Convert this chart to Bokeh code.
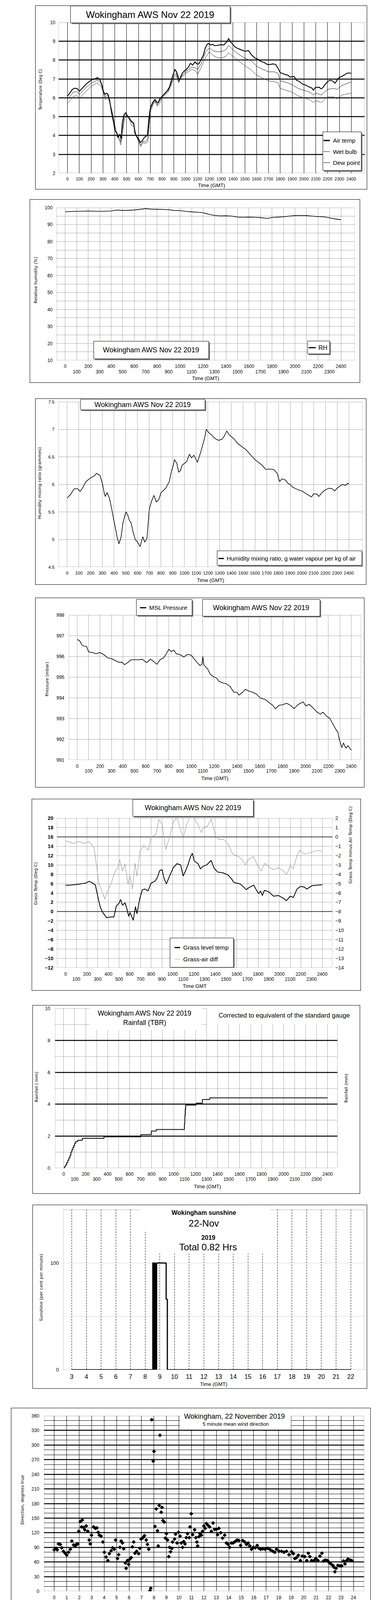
import numpy as np
from bokeh.plotting import figure
from bokeh.models import (Range1d, FixedTicker, LinearAxis, Label, Grid, CustomJSTickFormatter,
                          BoxAnnotation, Spacer)
from bokeh.layouts import column, row
from bokeh.embed import file_html
from bokeh.resources import INLINE

FONT = "Liberation Sans, Arimo, Arial, sans-serif"
YFONT = "DejaVu Sans"

# ======================= DATA =======================
hhmm_ticks = list(range(0, 2401, 100))
hhmm_even = list(range(0, 2401, 200))
hhmm_odd = list(range(100, 2400, 200))

# Panel 1 : temperatures (Deg C) vs time (hhmm)
air_temp = [(0,6.09),(19,6.25),(40,6.44),(61,6.51),(83,6.49),(100,6.34),(114,6.44),(136,6.58),(157,6.73),
 (178,6.83),(199,6.93),(220,6.99),(242,7.03),(252,7.08),(273,6.99),(290,6.69),(305,6.33),(320,6.18),(333,6.25),
 (343,6.18),(358,5.81),(375,5.14),(390,4.70),(401,4.25),(418,4.14),(428,3.89),(443,4.07),(454,3.81),(464,4.70),
 (479,5.11),(492,5.22),(507,4.99),(524,4.92),(538,4.77),(560,4.66),(570,4.14),(585,3.96),(602,3.81),(617,3.63),
 (634,3.74),(649,3.89),(664,3.96),(676,4.03),(689,4.92),(702,5.51),(719,5.73),(740,5.92),(755,5.77),(767,5.73),
 (782,5.96),(803,6.10),(825,6.25),(846,6.40),(863,6.58),(878,6.92),(892,7.21),(909,7.51),(924,7.36),(935,7.14),
 (945,6.92),(956,7.10),(973,7.33),(990,7.43),(1005,7.51),(1026,7.66),(1041,7.84),(1058,7.73),(1079,7.91),
 (1094,7.80),(1111,7.80),(1132,8.06),(1149,8.25),(1164,8.62),(1181,8.84),(1196,8.88),(1211,8.80),(1228,8.84),
 (1244,8.77),(1263,8.78),(1280,8.80),(1302,8.82),(1323,8.80),(1338,8.91),(1350,8.99),(1363,9.15),(1376,8.99),
 (1397,8.84),(1418,8.69),(1440,8.62),(1471,8.54),(1503,8.47),(1531,8.51),(1556,8.28),(1588,8.10),(1609,8.06),
 (1630,7.95),(1662,7.88),(1690,7.77),(1715,7.77),(1736,7.80),(1761,7.77),(1779,7.58),(1800,7.33),(1821,7.29),
 (1842,7.23),(1863,7.21),(1884,7.10),(1916,7.14),(1938,6.92),(1959,6.88),(1987,6.73),(2012,6.68),(2044,6.58),
 (2069,6.51),(2080,6.40),(2097,6.55),(2129,6.56),(2146,6.47),(2161,6.55),(2182,6.73),(2203,6.88),(2224,6.93),
 (2246,6.88),(2263,6.77),(2278,6.92),(2299,7.08),(2320,7.14),(2341,7.21),(2362,7.30),(2384,7.32),(2400,7.30)]
wet_bulb = [(0,5.92),(50,6.30),(80,6.33),(100,6.18),(150,6.50),(200,6.78),(250,6.93),(280,6.85),(300,6.40),
 (320,6.05),(340,6.15),(360,5.75),(380,5.15),(400,4.45),(420,4.05),(440,3.85),(450,3.65),(465,4.35),(480,5.00),
 (500,5.15),(520,4.95),(540,4.70),(560,4.60),(580,4.00),(600,3.75),(620,3.50),(640,3.70),(660,3.65),(680,3.85),
 (700,5.35),(720,5.65),(740,5.88),(760,5.62),(780,5.85),(800,6.05),(850,6.35),(880,6.80),(900,7.20),(920,7.30),
 (940,6.85),(960,7.10),(1000,7.40),(1050,7.62),(1080,7.60),(1100,7.50),(1130,7.80),(1170,8.45),(1200,8.65),
 (1230,8.50),(1260,8.45),(1300,8.45),(1340,8.55),(1363,8.78),(1400,8.55),(1450,8.30),(1500,8.10),(1550,7.98),
 (1600,7.68),(1650,7.52),(1700,7.38),(1750,7.38),(1780,7.30),(1800,6.90),(1850,6.82),(1900,6.70),(1950,6.50),
 (2000,6.40),(2050,6.30),(2080,6.15),(2100,6.25),(2150,6.15),(2180,6.35),(2200,6.45),(2250,6.50),(2280,6.45),
 (2320,6.65),(2360,6.75),(2400,6.84)]
dew_point = [(0,5.70),(20,5.85),(50,6.08),(80,6.12),(100,5.98),(120,6.10),(150,6.30),(200,6.60),(250,6.80),
 (280,6.65),(300,6.35),(320,5.90),(340,6.05),(360,5.70),(380,5.20),(400,4.60),(420,3.95),(440,3.75),(450,3.50),
 (465,4.00),(480,4.85),(500,5.05),(520,4.90),(540,4.55),(560,4.50),(580,4.00),(600,3.70),(620,3.40),(640,3.65),
 (660,3.55),(680,3.70),(700,5.20),(720,5.60),(740,5.80),(760,5.55),(780,5.70),(800,6.00),(850,6.30),(880,6.70),
 (900,7.10),(920,7.20),(940,6.80),(960,7.05),(1000,7.30),(1050,7.50),(1080,7.45),(1100,7.25),(1130,7.60),
 (1170,8.15),(1200,8.45),(1230,8.25),(1260,8.15),(1300,8.10),(1340,8.20),(1363,8.40),(1400,8.20),(1450,7.95),
 (1500,7.70),(1550,7.50),(1600,7.20),(1650,7.05),(1700,6.90),(1750,6.85),(1780,6.80),(1800,6.50),(1850,6.40),
 (1900,6.30),(1950,6.10),(2000,6.00),(2050,5.90),(2080,5.75),(2100,5.85),(2150,5.75),(2180,5.95),(2200,6.05),
 (2250,6.05),(2280,5.95),(2320,6.15),(2360,6.20),(2400,6.25)]

# Panel 2 : relative humidity (%)
rel_hum = [(0,97.6),(100,97.8),(200,98.0),(300,97.8),(400,98.0),(450,98.6),(500,98.3),(600,98.6),(700,99.4),
 (750,99.1),(800,99.0),(850,98.9),(900,98.8),(950,98.3),(1000,98.2),(1050,97.8),(1100,97.5),(1150,97.3),
 (1200,97.0),(1230,96.4),(1260,95.9),(1300,95.4),(1350,95.1),(1400,95.2),(1450,95.0),(1500,94.4),(1550,94.3),
 (1600,94.4),(1650,94.3),(1700,94.1),(1760,93.6),(1800,94.2),(1850,94.4),(1900,94.6),(1950,95.0),(2000,95.3),
 (2050,95.4),(2100,95.3),(2150,95.0),(2200,94.7),(2250,94.6),(2300,94.0),(2350,93.3),(2400,92.9)]

# Panel 3 : humidity mixing ratio (g/kg)
mix_ratio = [(0,5.75),(30,5.82),(60,5.92),(90,5.92),(110,5.87),(130,5.93),(160,6.05),(200,6.12),(230,6.15),
 (250,6.20),(280,6.16),(300,6.02),(315,5.85),(325,5.78),(340,5.85),(360,5.75),(380,5.55),(395,5.38),(410,5.22),
 (425,5.05),(441,4.92),(460,5.05),(475,5.30),(490,5.42),(501,5.50),(515,5.45),(530,5.35),(545,5.30),(560,5.15),
 (580,5.00),(600,4.95),(622,4.87),(635,4.98),(645,5.05),(660,4.95),(680,5.02),(700,5.55),(720,5.70),(740,5.80),
 (760,5.68),(780,5.72),(800,5.85),(840,5.93),(870,6.05),(890,6.25),(905,6.35),(914,6.45),(935,6.38),(950,6.22),
 (965,6.25),(980,6.35),(1000,6.38),(1020,6.42),(1042,6.55),(1060,6.48),(1080,6.53),(1110,6.40),(1125,6.50),
 (1140,6.60),(1160,6.75),(1175,6.88),(1185,7.00),(1210,6.93),(1230,6.90),(1250,6.85),(1270,6.82),(1290,6.80),
 (1320,6.82),(1340,6.88),(1360,6.97),(1380,6.90),(1420,6.83),(1450,6.75),(1480,6.70),(1523,6.63),(1545,6.58),
 (1570,6.52),(1600,6.45),(1630,6.40),(1660,6.35),(1693,6.27),(1720,6.28),(1760,6.27),(1790,6.20),(1810,6.05),
 (1830,6.10),(1860,6.08),(1880,6.02),(1900,6.00),(1920,5.95),(1940,5.93),(1970,5.90),(2000,5.88),(2030,5.84),
 (2060,5.80),(2082,5.77),(2100,5.83),(2130,5.82),(2145,5.78),(2170,5.85),(2200,5.90),(2230,5.93),(2260,5.92),
 (2280,5.88),(2300,5.93),(2330,5.98),(2350,6.00),(2370,5.98),(2393,6.02),(2400,6.01)]

# Panel 4 : MSL pressure (mbar)
pressure = [(0,996.82),(22,996.75),(40,996.57),(55,996.50),(81,996.49),(99,996.22),(132,996.19),(165,996.13),
 (198,996.19),(230,996.10),(264,995.94),(296,995.90),(329,995.81),(362,995.72),(395,995.72),(413,995.60),
 (439,995.69),(472,995.84),(505,995.84),(538,995.84),(571,995.86),(608,995.70),(641,995.87),(670,995.75),
 (698,995.62),(725,995.84),(758,995.94),(780,996.13),(802,996.35),(824,996.23),(845,996.31),(867,996.13),
 (900,996.09),(933,995.97),(966,996.10),(999,996.06),(1021,995.90),(1054,995.68),(1076,995.56),(1092,995.62),
 (1100,996.00),(1109,995.59),(1142,995.40),(1164,995.15),(1190,995.03),(1219,994.96),(1241,994.80),
 (1274,994.72),(1306,994.68),(1339,994.55),(1372,994.27),(1401,994.27),(1416,994.13),(1449,994.27),
 (1471,994.41),(1504,994.33),(1537,994.27),(1570,994.18),(1603,993.99),(1647,993.92),(1680,993.77),
 (1713,993.64),(1735,993.47),(1768,993.64),(1801,993.67),(1834,993.74),(1867,993.64),(1900,993.48),
 (1933,993.67),(1977,993.81),(2003,993.61),(2032,993.69),(2064,993.52),(2097,993.33),(2130,993.21),
 (2152,993.31),(2185,993.11),(2212,993.01),(2240,992.73),(2262,992.51),(2284,992.32),(2295,992.00),
 (2317,991.60),(2332,991.82),(2354,991.57),(2372,991.69),(2400,991.47)]

# Panel 5 : grass temperature (left axis) and grass-air difference (right axis)
grass_temp = [(0,5.68),(35,5.68),(93,5.80),(139,5.95),(185,6.10),(220,6.50),(255,6.10),(278,5.68),(301,3.20),
 (324,0.95),(347,-0.17),(382,-1.28),(417,-1.14),(451,-1.14),(474,1.22),(498,1.78),(514,2.60),(532,1.36),
 (555,1.92),(572,0.67),(590,-1.00),(602,-0.17),(632,-1.84),(653,1.08),(667,-0.45),(694,2.89),(717,4.70),
 (741,4.84),(771,4.42),(798,6.09),(833,6.50),(856,7.20),(879,8.74),(902,9.00),(921,7.06),(942,5.95),(972,7.62),
 (1007,9.43),(1041,10.27),(1076,9.99),(1099,7.62),(1122,8.74),(1145,10.13),(1169,11.80),(1185,12.50),
 (1203,10.83),(1238,10.27),(1261,9.15),(1284,9.71),(1319,9.99),(1361,10.96),(1388,9.29),(1423,8.46),
 (1469,8.32),(1516,7.90),(1550,7.06),(1574,6.23),(1631,5.95),(1666,5.26),(1689,4.70),(1712,5.12),(1759,5.68),
 (1782,4.70),(1805,3.87),(1823,4.42),(1840,3.45),(1858,4.56),(1898,4.28),(1944,3.31),(1990,3.45),(2036,2.89),
 (2064,2.34),(2101,3.31),(2129,3.03),(2164,4.84),(2198,5.40),(2233,5.26),(2256,4.84),(2302,5.54),(2349,5.68),
 (2400,5.76)]
grass_air_diff = [(0,-0.42),(69,-0.70),(127,-0.49),(174,-0.70),(220,-0.49),(266,-1.14),(289,-3.09),(312,-5.04),
 (347,-6.01),(366,-6.64),(394,-5.73),(428,-4.90),(463,-3.65),(486,-3.37),(505,-2.46),(532,-3.65),(555,-2.88),
 (583,-5.04),(602,-4.20),(625,-5.59),(648,-2.81),(667,-4.20),(694,-1.56),(729,-0.93),(775,-1.42),(798,-0.03),
 (845,0.25),(872,1.86),(902,1.36),(921,-0.17),(937,-1.35),(972,-0.03),(1007,1.57),(1041,2.10),(1099,-0.17),
 (1122,0.95),(1157,2.10),(1203,2.05),(1238,1.29),(1268,0.46),(1296,1.09),(1324,1.09),(1361,1.92),(1400,0.11),
 (1435,-0.31),(1476,-0.24),(1516,-0.72),(1562,-1.84),(1608,-2.05),(1654,-2.46),(1678,-3.02),(1712,-2.39),
 (1759,-2.11),(1793,-3.02),(1828,-3.65),(1863,-2.81),(1898,-3.23),(1944,-3.51),(1990,-3.30),(2036,-3.65),
 (2066,-4.06),(2101,-3.09),(2129,-3.44),(2164,-1.98),(2191,-1.42),(2233,-1.84),(2268,-1.77),(2314,-1.56),
 (2360,-1.45),(2400,-1.56)]

# Panel 6 : cumulative rainfall (mm), step series
rainfall = [(0,0.0),(8,0.1),(18,0.2),(28,0.35),(38,0.5),(48,0.65),(58,0.8),(66,1.0),(75,1.15),(84,1.3),
 (92,1.42),(100,1.55),(110,1.67),(129,1.75),(170,1.87),(367,1.96),(702,2.1),(797,2.32),(842,2.42),(1098,2.8),
 (1102,3.3),(1106,3.7),(1110,3.95),(1205,4.07),(1261,4.3),(1329,4.4),(2400,4.4)]

# Panel 7 : sunshine (% per minute) vs hour
sunshine = [(3.0,0),(8.52,100),(8.60,0),(8.65,100),(8.70,0),(8.78,100),(9.43,66),(9.51,0),(22.0,0)]
sun_hours = list(range(3, 23))

# Panel 8 : 5-minute mean wind direction (degrees) vs hour
wind_dir = [(0.0,85),(0.14,88),(0.24,85),(0.34,97),(0.48,96),(0.6,89),(0.74,82),(0.88,78),(1.0,74),(1.15,80),
 (1.29,86),(1.41,103),(1.55,95),(1.69,93),(1.81,97),(1.89,97),(1.97,123),(2.09,143),(2.19,132),(2.25,146),
 (2.35,131),(2.45,126),(2.57,134),(2.69,123),(2.81,105),(2.89,97),(2.99,115),(3.16,132),(3.3,129),(3.42,130),
 (3.52,121),(3.62,115),(3.76,113),(3.9,101),(4.02,80),(4.16,70),(4.3,63),(4.42,77),(4.56,83),(4.68,89),
 (4.82,86),(4.92,105),(5.07,67),(5.17,75),(5.27,90),(5.37,103),(5.47,99),(5.57,87),(5.71,58),(5.77,47),
 (5.87,63),(5.97,55),(6.07,66),(6.17,69),(6.27,91),(6.37,101),(6.47,78),(6.61,82),(6.77,77),(6.87,88),
 (6.97,107),(7.12,110),(7.24,114),(7.38,105),(7.48,96),(7.58,86),(7.68,1),(7.74,6),(7.82,352),(7.94,267),
 (8.0,287),(8.08,133),(8.18,169),(8.28,124),(8.34,93),(8.42,176),(8.48,320),(8.58,162),(8.64,172),(8.72,145),
 (8.82,142),(8.92,109),(9.0,118),(9.09,105),(9.19,71),(9.25,90),(9.33,81),(9.43,88),(9.49,101),(9.65,107),
 (9.73,117),(9.85,99),(9.97,121),(10.09,113),(10.19,99),(10.29,90),(10.39,102),(10.49,97),(10.59,110),
 (10.69,118),(10.83,110),(10.89,132),(10.99,159),(11.1,116),(11.26,126),(11.36,110),(11.44,101),(11.5,93),
 (11.6,112),(11.7,118),(11.8,115),(11.9,123),(12.0,134),(12.1,129),(12.2,139),(12.34,135),(12.46,132),
 (12.6,123),(12.74,140),(12.86,127),(13.0,127),(13.1,116),(13.2,129),(13.35,120),(13.5,109),(13.67,115),
 (13.81,99),(13.95,96),(14.07,90),(14.21,99),(14.35,99),(14.51,102),(14.67,105),(14.81,104),(14.95,94),
 (15.12,104),(15.28,101),(15.42,96),(15.56,99),(15.68,93),(15.82,86),(15.96,90),(16.12,89),(16.28,94),
 (16.42,88),(16.56,86),(16.72,87),(16.92,86),(17.13,88),(17.33,85),(17.53,82),(17.69,80),(17.83,86),
 (18.03,82),(18.23,82),(18.43,80),(18.63,82),(18.83,75),(19.04,81),(19.18,77),(19.3,67),(19.44,69),(19.58,74),
 (19.74,63),(19.9,72),(20.1,71),(20.26,63),(20.38,78),(20.5,71),(20.64,63),(20.84,63),(20.98,67),(21.15,63),
 (21.31,72),(21.47,78),(21.59,62),(21.75,64),(21.91,63),(22.05,59),(22.19,56),(22.35,53),(22.45,49),
 (22.51,40),(22.61,47),(22.75,53),(22.91,52),(23.06,52),(23.2,62),(23.32,56),(23.46,63),(23.56,66),
 (23.72,64),(23.86,63)]

# Panel 9 : wind speed (knots) vs hour
speed_mean = [(0,3.9),(0.35,3.9),(0.74,3.2),(1.13,3.0),(1.43,2.75),(1.82,3.7),(2.11,2.75),(2.5,3.7),(2.99,3.45),
 (3.29,2.75),(3.68,3.0),(3.97,2.75),(4.36,3.2),(4.76,4.4),(5.05,3.0),(5.44,2.5),(5.77,1.56),(6.03,2.5),
 (6.32,1.33),(6.61,3.0),(7.0,5.1),(7.3,3.9),(7.55,3.0),(7.79,1.33),(8.08,1.1),(8.28,1.56),(8.47,0.6),
 (8.67,0.6),(8.77,4.4),(9.06,3.9),(9.35,4.4),(9.75,4.2),(10.14,3.9),(10.63,4.4),(11.12,5.35),(11.51,4.4),
 (11.9,4.65),(12.39,7.5),(12.68,4.4),(13.07,6.3),(13.46,4.65),(13.86,3.45),(14.25,5.1),(14.64,5.6),
 (15.13,6.5),(15.62,5.8),(16.01,7.0),(16.4,6.5),(16.79,5.8),(17.28,8.0),(17.67,8.2),(18.06,7.7),(18.45,6.1),
 (18.75,7.7),(19.14,7.0),(19.53,5.1),(19.92,4.0),(20.31,4.65),(20.7,4.2),(21.1,4.65),(21.49,3.9),(21.88,4.9),
 (22.27,3.7),(22.66,4.4),(23.06,6.1),(23.45,7.7),(23.64,5.8),(23.99,7.7)]
speed_gust = [(0.0,6.5),(0.12,4.8),(0.25,8.3),(0.37,4.5),(0.5,7.0),(0.62,4.2),(0.75,5.5),(0.87,3.8),(1.0,4.0),
 (1.12,7.5),(1.25,4.0),(1.37,6.2),(1.5,4.5),(1.62,7.8),(1.75,3.9),(1.87,6.8),(2.0,3.5),(2.12,6.5),(2.25,4.2),
 (2.37,6.0),(2.5,5.0),(2.62,6.8),(2.75,3.8),(2.87,5.8),(3.0,4.0),(3.12,5.5),(3.25,3.2),(3.37,5.0),(3.5,3.5),
 (3.62,4.8),(3.75,3.0),(3.87,4.5),(4.0,3.0),(4.12,5.5),(4.25,4.0),(4.37,6.5),(4.5,5.0),(4.62,6.2),(4.75,4.2),
 (4.87,5.0),(5.0,3.2),(5.12,4.5),(5.25,3.0),(5.37,4.0),(5.5,2.8),(5.62,3.8),(5.75,2.2),(5.87,4.5),(6.0,3.0),
 (6.12,5.0),(6.25,2.2),(6.37,4.5),(6.5,3.5),(6.62,5.5),(6.75,4.5),(6.87,7.5),(7.0,5.5),(7.12,6.5),(7.25,4.0),
 (7.37,5.0),(7.5,3.0),(7.62,3.8),(7.75,1.5),(7.87,3.5),(8.0,1.2),(8.12,3.0),(8.25,1.0),(8.37,4.5),(8.5,2.0),
 (8.62,6.5),(8.75,9.5),(8.87,4.5),(9.0,5.5),(9.12,4.0),(9.25,6.0),(9.37,4.2),(9.5,6.5),(9.62,4.5),(9.75,7.0),
 (9.87,5.0),(10.0,5.5),(10.12,8.5),(10.25,5.0),(10.37,7.8),(10.5,6.0),(10.62,9.5),(10.75,5.5),(10.87,8.5),
 (11.0,6.5),(11.1,17.0),(11.2,6.5),(11.37,12.5),(11.5,7.5),(11.62,11.0),(11.75,7.0),(11.87,12.0),(12.0,8.0),
 (12.12,11.5),(12.25,7.5),(12.37,12.5),(12.5,8.0),(12.62,11.5),(12.75,7.0),(12.87,10.5),(13.0,6.5),
 (13.12,11.0),(13.25,6.0),(13.37,10.0),(13.5,5.5),(13.62,9.5),(13.75,5.0),(13.87,9.0),(14.0,6.5),(14.12,10.5),
 (14.25,8.0),(14.37,13.5),(14.5,8.5),(14.62,13.0),(14.75,8.5),(14.89,16.6),(15.0,9.0),(15.12,14.0),(15.25,8.5),
 (15.37,15.0),(15.5,9.5),(15.62,13.5),(15.75,9.0),(15.87,15.0),(16.0,16.6),(16.12,10.0),(16.25,14.0),
 (16.37,9.0),(16.5,13.0),(16.62,8.5),(16.75,12.5),(16.87,9.5),(17.0,13.0),(17.12,10.0),(17.3,17.7),(17.4,10.5),
 (17.5,15.5),(17.62,10.0),(17.75,14.5),(17.87,9.5),(18.0,15.0),(18.12,9.5),(18.25,14.0),(18.37,10.0),
 (18.5,13.5),(18.62,10.0),(18.86,16.6),(19.0,9.0),(19.12,12.5),(19.25,7.5),(19.37,9.5),(19.5,6.0),(19.62,9.0),
 (19.75,5.0),(19.87,8.5),(20.0,5.5),(20.12,9.0),(20.25,5.0),(20.37,8.5),(20.5,5.0),(20.62,9.0),(20.75,5.0),
 (20.87,8.5),(21.0,5.0),(21.12,9.0),(21.25,4.5),(21.37,8.5),(21.5,5.0),(21.62,9.0),(21.75,4.0),(21.87,7.5),
 (22.0,3.5),(22.12,6.5),(22.25,4.0),(22.37,8.5),(22.5,5.5),(22.62,9.5),(22.75,6.5),(22.87,11.0),(23.0,8.0),
 (23.14,16.9),(23.25,9.0),(23.36,16.2),(23.5,10.0),(23.62,14.5),(23.75,9.5),(23.87,15.4),(23.95,8.0),
 (24.0,13.0)]
speed_x10 = [(0.0,40.0),(0.08,38.7),(0.16,39.6),(0.24,39.2),(0.31,36.8),(0.37,38.7),(0.44,38.3),(0.52,39.4),
 (0.58,37.4),(0.65,37.9),(0.71,36.8),(0.68,35.1),(0.74,35.7),(0.78,33.8),(0.83,32.5),(0.88,31.2),(0.93,30.1),
 (0.95,29.0),(1.01,28.4),(1.06,27.9),(1.11,31.2),(1.13,35.5),(1.2,36.0),(1.26,33.1),(1.28,31.6),(1.33,29.0),
 (1.4,27.7),(1.46,26.6),(1.52,28.2),(1.54,31.6),(1.59,34.0),(1.64,35.7),(1.66,38.1),(1.74,39.0),(1.8,39.8),
 (1.87,39.6),(1.95,38.1),(2.0,36.3),(2.05,33.3),(2.07,31.3),(2.1,28.6),(2.16,26.9),(2.19,25.3),(2.26,26.9),
 (2.29,29.2),(2.33,30.5),(2.36,32.7),(2.41,34.9),(2.46,33.8),(2.52,36.8),(2.57,39.6),(2.62,38.7),(2.72,37.7),
 (2.77,39.8),(2.87,39.8),(2.92,38.1),(2.95,36.6),(2.97,35.7),(2.99,33.8),(3.02,32.5),(3.07,31.4),(3.12,30.5),
 (3.15,29.0),(3.2,27.0),(3.22,26.0),(3.25,24.3),(3.27,23.4),(3.32,28.2),(3.37,29.0),(3.43,30.3),(3.48,31.4),
 (3.53,32.5),(3.58,33.3),(3.63,32.0),(3.68,30.3),(3.72,27.7),(3.76,25.6),(3.81,24.1),(3.86,23.0),(3.89,22.3),
 (3.94,26.4),(3.99,27.7),(4.04,28.2),(4.1,28.8),(4.2,27.7),(4.3,28.6),(4.35,29.6),(4.37,31.2),(4.4,32.5),
 (4.43,33.8),(4.46,35.1),(4.48,36.8),(4.51,38.3),(4.56,39.8),(4.8,39.6),(4.84,38.3),(4.87,36.6),(4.9,35.5),
 (4.92,34.2),(4.94,32.7),(4.97,31.2),(4.99,30.1),(5.02,29.0),(5.05,27.7),(5.11,26.9),(5.16,26.0),(5.2,25.1),
 (5.23,24.3),(5.25,22.3),(5.28,23.4),(5.33,24.9),(5.38,25.6),(5.43,24.7),(5.48,25.3),(5.53,26.2),(5.58,26.4),
 (5.63,22.3),(5.68,20.7),(5.71,19.0),(5.73,17.7),(5.76,16.4),(5.78,15.7),(5.81,18.0),(5.83,19.8),(5.86,21.3),
 (5.88,23.0),(5.91,24.9),(5.93,26.4),(5.98,27.7),(6.05,28.2),(6.11,27.0),(6.15,26.2),(6.21,24.5),(6.23,22.5),
 (6.28,20.5),(6.31,18.6),(6.33,16.8),(6.37,15.5),(6.39,14.0),(6.37,13.3),(6.44,17.5),(6.47,20.1),(6.51,23.6),
 (6.54,25.1),(6.59,26.9),(6.64,27.9),(6.69,28.8),(6.72,29.6),(6.74,30.9),(6.76,32.0),(6.79,33.3),(6.81,34.2),
 (6.84,35.5),(6.84,37.0),(6.87,38.9),(7.25,39.4),(7.35,38.1),(7.38,37.0),(7.4,36.2),(7.45,33.3),(7.48,32.5),
 (7.5,31.6),(7.52,30.7),(7.55,29.2),(7.57,26.6),(7.6,24.9),(7.6,22.5),(7.62,21.0),(7.63,18.8),(7.65,16.8),
 (7.68,15.7),(7.68,12.9),(7.71,11.8),(7.73,10.5),(7.73,9.2),(7.76,13.5),(7.79,14.6),(7.83,16.8),(7.86,18.5),
 (7.91,19.0),(7.96,19.2),(8.01,16.4),(8.04,32.0),(8.06,30.3),(8.06,26.6),(8.08,27.5),(8.06,22.8),(8.09,22.3),
 (8.11,16.0),(8.14,14.9),(8.16,13.8),(8.18,12.9),(8.18,9.4),(8.21,8.6),(8.26,10.3),(8.31,9.4),(8.36,8.6),
 (8.42,9.4),(8.47,12.5),(8.52,11.2),(8.57,12.0),(8.62,11.2),(8.1,7.5),(8.2,6.0),(8.25,4.2),(8.3,2.5),(8.38,0.6),
 (8.42,3.5),(8.48,5.5),(8.55,7.2),(8.6,6.0),(8.65,3.8),(8.7,6.5),(8.65,16.6),(8.65,21.2),(8.67,26.6),(8.72,32.1),
 (8.72,37.9),(8.88,39.6),(8.93,38.9),(8.98,38.3),(9.03,37.6),(9.08,37.0),(9.11,36.2),(9.15,34.0),(9.18,33.3),
 (9.23,32.5),(9.26,31.4),(9.31,32.2),(9.35,36.2),(9.38,37.0),(9.43,35.3),(9.45,34.0),(9.48,32.5),(9.5,31.0),
 (9.53,29.9),(9.48,28.8),(9.45,28.4),(9.58,31.4),(9.58,36.0),(9.63,37.0),(9.66,38.1),(9.7,39.6),(9.78,39.8),
 (9.88,39.6),(9.98,39.2),(10.03,39.6),(10.08,38.1),(10.13,38.7),(10.71,39.8),(10.87,38.1),(11.42,39.8),
 (11.58,38.3),(11.63,38.7),(11.73,39.6),(11.73,37.9),(13.77,39.3),(13.75,37.3),(13.93,37.5),(13.83,36.4),
 (13.91,35.5),(13.83,34.2),(19.77,39.0),(19.79,39.9),(20.5,39.8),(21.16,39.9),(21.47,39.9),(21.4,37.5),
 (21.44,36.4),(22.03,37.4),(22.08,35.1),(22.13,35.9),(22.13,36.6),(22.18,38.9),(22.18,37.6),(22.23,36.8),
 (22.33,38.5),(22.35,36.8),(22.36,36.0),(22.38,37.9),(22.41,39.7)]

def cols(pairs):
    return [a for a, b in pairs], [b for a, b in pairs]

# ======================= HELPERS =======================
class Geo:
    """Panel geometry in reference pixels: outer box, true plot rectangle, x anchors, y range.
    The Bokeh frame is extended up to the outer box top (and optionally to its right edge)."""
    def __init__(self, box, plot, xanch, yr, ext_right=False):
        self.box = tuple(int(round(v)) for v in box)
        self.plot = tuple(int(round(v)) for v in plot)
        (p0, v0), (p1, v1) = xanch
        self.p0, self.v0, self.s = p0, v0, (v1 - v0) / (p1 - p0)
        self.yr = yr
        self.ext_right = ext_right
        self.frame = (self.plot[0], self.box[1], self.box[2] if ext_right else self.plot[2], self.plot[3])

    def dx(self, px):
        return self.v0 + (px - self.p0) * self.s

    def dy(self, py):
        _, t, _, b = self.plot
        ys, ye = self.yr
        return ys + (b - py) * (ye - ys) / (b - t)

def make_fig(g):
    x0, y0, x1, y1 = g.box
    fx0, fy0, fx1, fy1 = g.frame
    p = figure(width=x1 - x0, height=y1 - y0,
               x_range=Range1d(g.dx(fx0), g.dx(fx1)), y_range=Range1d(g.dy(fy1), g.dy(fy0)),
               min_border_left=fx0 - x0, min_border_right=x1 - fx1,
               min_border_top=fy0 - y0, min_border_bottom=y1 - fy1,
               output_backend="svg", toolbar_location=None, tools="")
    p.styles = {"outline": "1px solid black"}
    p.outline_line_color = None
    p.background_fill_color = "white"
    p.border_fill_color = "white"
    p.xgrid.grid_line_color = None
    p.ygrid.grid_line_color = None
    return p

def sty(ax, size, standoff, bold=False):
    ax.axis_line_color = None
    ax.major_tick_line_color = None
    ax.minor_tick_line_color = None
    ax.major_tick_out = 0
    ax.major_tick_in = 0
    ax.minor_tick_out = 0
    ax.minor_tick_in = 0
    ax.major_label_text_font = FONT
    ax.major_label_text_font_size = f"{size}px"
    ax.major_label_text_font_style = "bold" if bold else "normal"
    ax.major_label_text_color = "black"
    ax.major_label_standoff = standoff

def axis_title(ax, text, size, standoff, font=FONT, bounds=None):
    ax.axis_label = text
    ax.axis_label_text_font = font
    ax.axis_label_text_font_size = f"{size}px"
    ax.axis_label_text_font_style = "normal"
    ax.axis_label_text_color = "black"
    ax.axis_label_standoff = standoff
    if bounds is not None:
        ax.bounds = bounds

def xtitle(p, g, ax, text, standoff, size=13):
    axis_title(ax, text, size, standoff, bounds=(g.dx(g.plot[0]), g.dx(g.plot[2])))

def ytitle(p, g, text, standoff, size=11):
    axis_title(p.left[0], text, size, standoff, font=YFONT, bounds=tuple(g.yr))

def two_row(p, even, odd, size, s1, s2, formatter=None):
    ax1 = p.below[0]
    ax1.ticker = FixedTicker(ticks=even)
    ax2 = LinearAxis(ticker=FixedTicker(ticks=odd))
    p.add_layout(ax2, "below")
    sty(ax1, size, s1)
    sty(ax2, size, s2)
    if formatter is not None:
        ax1.formatter = formatter
        ax2.formatter = CustomJSTickFormatter(code=formatter.code)
    return ax2

def grid(grd, ticks, color="black", width=1, dash="solid", alpha=1.0):
    grd.ticker = FixedTicker(ticks=ticks)
    grd.grid_line_color = color
    grd.grid_line_width = width
    grd.grid_line_dash = dash
    grd.grid_line_alpha = alpha

def extra_grid(p, dim, ticks, color="black", width=1, dash="solid", alpha=1.0):
    p.add_layout(Grid(dimension=dim, ticker=FixedTicker(ticks=ticks), grid_line_color=color,
                      grid_line_width=width, grid_line_dash=dash, grid_line_alpha=alpha))

def plot_frame(p, g):
    """White-out the extended frame outside the true plot area, then draw the plot border."""
    l, t, r, b = g.plot
    p.add_layout(BoxAnnotation(bottom=g.dy(t), fill_color="white", fill_alpha=1.0, line_color=None))
    if g.ext_right:
        p.add_layout(BoxAnnotation(left=g.dx(r), fill_color="white", fill_alpha=1.0, line_color=None))
        right = g.dx(r + 0.5)
    else:
        right = g.dx(r - 0.5)
    p.add_layout(BoxAnnotation(left=g.dx(l + 0.5), right=right, bottom=g.dy(b - 0.5), top=g.dy(t + 0.5),
                               fill_alpha=0.0, line_color="black", line_width=1))

def txt(p, g, px, py, text, size, font=FONT, bold=False, angle=0.0, color="black", align="center"):
    p.add_layout(Label(x=g.dx(px), y=g.dy(py), text=text, text_font=font,
                       text_font_size=f"{size}px", text_font_style="bold" if bold else "normal",
                       text_align=align, text_baseline="middle", angle=angle, text_color=color))

def rect(p, g, x0, x1, yc, half_h, fill, border=False, x_off=0, y_off=0):
    """Annotation rectangle built from a blank label: horizontal half-size from x0..x1, vertical half_h px."""
    hw = int(round((x1 - x0) / 2))
    p.add_layout(Label(x=g.dx((x0 + x1) / 2), y=g.dy(yc), x_offset=x_off, y_offset=y_off, text=" ",
                       text_font_size="1px", text_align="center", text_baseline="middle",
                       background_fill_color=fill, border_line_color="black" if border else None,
                       border_line_width=1, padding=dict(left=hw, right=hw, top=half_h, bottom=half_h)))

def box(p, g, x0, y0, x1, y1, border=True, shadow=True, fill="white"):
    hh = int(round((y1 - y0) / 2))
    yc = (y0 + y1) / 2
    if shadow:
        rect(p, g, x0, x1, yc, hh, "#7a7a7a", x_off=3, y_off=-3)
    rect(p, g, x0, x1, yc, hh, fill, border=border)

def legend_entry(p, g, sx0, sx1, yc, thick, text, tx, size, color="black"):
    rect(p, g, sx0, sx1, yc, thick, color)
    txt(p, g, tx, yc, text, size, align="left")

TITLE = "Wokingham AWS Nov 22 2019"
dotted = "1 2"

# ======================= PANEL 1 : temperature =======================
g1 = Geo((99.4, 23.2, 945.5, 492.1), (157.1, 65.4, 940.4, 451.8), ((180.1, 0), (905.8, 2400)), (2, 10))
p1 = make_fig(g1)
p1.xaxis.ticker = FixedTicker(ticks=hhmm_ticks)
sty(p1.below[0], 11, 10)
p1.yaxis.ticker = FixedTicker(ticks=list(range(2, 11)))
sty(p1.left[0], 12, 8)
xtitle(p1, g1, p1.below[0], "Time (GMT)", 2)
ytitle(p1, g1, "Temperature (Deg C)", 16, size=10)
grid(p1.xgrid[0], hhmm_ticks, width=1)
grid(p1.ygrid[0], list(range(3, 10)), width=2.6)
t, v = cols(dew_point); p1.line(t, v, line_color="#333333", line_width=1)
t, v = cols(wet_bulb); p1.line(t, v, line_color="#111111", line_width=1)
t, v = cols(air_temp); p1.line(t, v, line_color="black", line_width=2.2)
plot_frame(p1, g1)
box(p1, g1, 187.8, 24.0, 596.2, 65.4)
txt(p1, g1, 392.0, 44.7, TITLE, 24)
box(p1, g1, 833.3, 346.4, 931.4, 444.6)
legend_entry(p1, g1, 835, 851, 367.9, 1, "Air temp", 859, 15.5)
legend_entry(p1, g1, 835, 851, 396.4, 0, "Wet bulb", 859, 15.5)
legend_entry(p1, g1, 835, 851, 425.0, 0, "Dew point", 859, 15.5)

# ======================= PANEL 2 : RH =======================
g2 = Geo((85.3, 518.6, 927.6, 986.6), (151.9, 538.6, 914.7, 929.7), ((174.4, 0), (879.5, 2400)), (10, 100))
p2 = make_fig(g2)
ax2b = two_row(p2, hhmm_even, hhmm_odd, 12, 10, 2)
p2.yaxis.ticker = FixedTicker(ticks=list(range(10, 101, 10)))
sty(p2.left[0], 12, 10)
xtitle(p2, g2, ax2b, "Time (GMT)", 2)
ytitle(p2, g2, "Relative humidity (%)", 13)
grid(p2.xgrid[0], hhmm_ticks, dash=dotted)
grid(p2.ygrid[0], list(range(15, 100, 5)), dash=dotted)
t, v = cols(rel_hum); p2.line(t, v, line_color="black", line_width=1.6)
plot_frame(p2, g2)
box(p2, g2, 246.8, 881.7, 541.7, 925.5)
txt(p2, g2, 394.3, 903.6, TITLE, 18)
box(p2, g2, 794.9, 880.7, 850.0, 913.4)
legend_entry(p2, g2, 797, 815, 897.5, 1, "RH", 821.8, 16)

# ======================= PANEL 3 : mixing ratio =======================
g3 = Geo((99.4, 1029.0, 944.2, 1504.3), (151.9, 1035.9, 935.3, 1459.3), ((174.4, 0), (899.4, 2400)), (4.5, 7.5))
p3 = make_fig(g3)
p3.xaxis.ticker = FixedTicker(ticks=hhmm_ticks)
sty(p3.below[0], 11.5, 11)
p3.yaxis.ticker = FixedTicker(ticks=[4.5, 5.0, 5.5, 6.0, 6.5, 7.0, 7.5])
p3.yaxis.formatter = CustomJSTickFormatter(code="return String(tick);")
sty(p3.left[0], 11.5, 10)
xtitle(p3, g3, p3.below[0], "Time (GMT)", 4)
ytitle(p3, g3, "Humidity mixing ratio (grammes)", 13)
grid(p3.xgrid[0], hhmm_ticks, dash=dotted)
grid(p3.ygrid[0], [5.0, 5.5, 6.0, 6.5, 7.0], dash=dotted)
t, v = cols(mix_ratio); p3.line(t, v, line_color="black", line_width=1.6)
plot_frame(p3, g3)
box(p3, g3, 210.3, 1029.7, 527.6, 1056.6)
txt(p3, g3, 369.0, 1043.1, TITLE, 18)
box(p3, g3, 562.2, 1418.3, 931.4, 1454.0)
legend_entry(p3, g3, 564, 578, 1437.3, 1, "Humidity mixing ratio, g water vapour per kg of air", 585, 15)

# ======================= PANEL 4 : pressure =======================
g4 = Geo((99.4, 1539.3, 939.1, 2023.3), (182.7, 1582.3, 931.4, 1953.3), ((205.1, 0), (905.8, 2400)), (991, 998))
p4 = make_fig(g4)
ax4b = two_row(p4, hhmm_even, hhmm_odd, 12, 11, 0)
p4.yaxis.ticker = FixedTicker(ticks=list(range(991, 999)))
sty(p4.left[0], 12, 11)
xtitle(p4, g4, ax4b, "Time (GMT)", 4)
ytitle(p4, g4, "Pressure (mbar)", 14)
grid(p4.xgrid[0], hhmm_ticks, dash=dotted)
grid(p4.ygrid[0], list(range(992, 998)), dash=dotted)
t, v = cols(pressure); p4.line(t, v, line_color="black", line_width=1.6)
plot_frame(p4, g4)
box(p4, g4, 356.4, 1542.7, 498.7, 1582.3)
legend_entry(p4, g4, 366, 381, 1563.3, 1, "MSL Pressure", 389, 15.5)
box(p4, g4, 525.6, 1542.7, 825.6, 1584.3)
txt(p4, g4, 675.6, 1563.5, TITLE, 18)

# ======================= PANEL 5 : grass temperature =======================
g5 = Geo((89.7, 2054.0, 929.5, 2542.7), (144.2, 2101.7, 857.7, 2485.0), ((166.7, 0), (831.4, 2400)), (-12, 20))
p5 = make_fig(g5)
p5.extra_y_ranges = {"diff": Range1d(-14 + (g5.dy(g5.frame[3]) + 12) / 2.0, -14 + (g5.dy(g5.frame[1]) + 12) / 2.0)}
ax5b = two_row(p5, hhmm_even, hhmm_odd, 12, 11, 1)
p5.yaxis.ticker = FixedTicker(ticks=list(range(-12, 21, 2)))
sty(p5.left[0], 13, 9, bold=True)
xtitle(p5, g5, ax5b, "Time GMT", 3)
ytitle(p5, g5, "Grass Temp (Deg C)", 13)
rax = LinearAxis(y_range_name="diff", ticker=FixedTicker(ticks=list(range(-14, 3))))
p5.add_layout(rax, "right")
sty(rax, 13, 7)
axis_title(rax, "Grass Temp minus Air Temp (Deg C)", 11, 14, font=YFONT, bounds=(-14, 2))
try:
    rax.axis_label_orientation = np.pi / 2
except Exception:
    pass
grid(p5.xgrid[0], hhmm_ticks, dash=dotted)
grid(p5.ygrid[0], [k for k in range(-10, 20, 2) if k not in (0, 16)], dash=dotted)
extra_grid(p5, 1, [0, 16], width=1.6)
t, v = cols(grass_air_diff); p5.line(t, v, y_range_name="diff", line_color="#9a9a9a", line_width=1.2)
t, v = cols(grass_temp); p5.line(t, v, line_color="black", line_width=2)
plot_frame(p5, g5)
box(p5, g5, 342.9, 2055.0, 650.6, 2096.7)
txt(p5, g5, 496.8, 2075.9, TITLE, 18)
box(p5, g5, 437.8, 2409.3, 600.6, 2483.3)
legend_entry(p5, g5, 449, 463, 2433.3, 1, "Grass level temp", 471.2, 15.5)
legend_entry(p5, g5, 449, 463, 2462.7, 0, "Grass-air diff", 471.2, 15.5, color="#9a9a9a")

# ======================= PANEL 6 : rainfall =======================
g6 = Geo((91.7, 2582.3, 928.2, 3063.2), (142.9, 2589.3, 870.5, 2998.3), ((165.4, 0), (844.9, 2400)), (0, 10),
         ext_right=True)
p6 = make_fig(g6)
ax6b = two_row(p6, hhmm_even, hhmm_odd, 12, 10, 1)
p6.yaxis.ticker = FixedTicker(ticks=list(range(0, 11, 2)))
sty(p6.left[0], 12, 12)
xtitle(p6, g6, ax6b, "Time (GMT)", 4)
ytitle(p6, g6, "Rainfall ( mm)", 12)
grid(p6.xgrid[0], hhmm_ticks, dash=dotted)
grid(p6.ygrid[0], [2, 4, 6, 8], width=2.6)
extra_grid(p6, 1, [1, 3, 5, 7, 9], dash=dotted)
t, v = cols(rainfall); p6.step(t, v, mode="after", line_color="black", line_width=2)
plot_frame(p6, g6)
box(p6, g6, 234.0, 2587.3, 519.2, 2643.3, border=False, shadow=False)
box(p6, g6, 536.0, 2585.7, 918.0, 2630.0, border=False, shadow=False)
txt(p6, g6, 374.0, 2601.7, TITLE, 17.5)
txt(p6, g6, 374.0, 2625.0, "Rainfall (TBR)", 17.5)
txt(p6, g6, 733.0, 2606.7, "Corrected to equivalent of the standard gauge", 16.5)
txt(p6, g6, 893.0, 2793.3, "Rainfall (mm)", 11, font=YFONT, angle=np.pi / 2)

# ======================= PANEL 7 : sunshine =======================
g7 = Geo((91.7, 3093.1, 945.5, 3562.1), (168.6, 3104.2, 939.1, 3514.2), ((191.0, 3), (904.5, 22)), (0, 150))
p7 = make_fig(g7)
p7.xaxis.ticker = FixedTicker(ticks=sun_hours)
sty(p7.below[0], 16, 11)
p7.yaxis.ticker = FixedTicker(ticks=[0, 100])
sty(p7.left[0], 13, 11)
xtitle(p7, g7, p7.below[0], "Time (GMT)", 3)
ytitle(p7, g7, "Sunshine (per cent per minute)", 14)
grid(p7.xgrid[0], sun_hours, dash="4 3")
grid(p7.ygrid[0], [50, 100], color="#888888", dash=dotted)
t, v = cols(sunshine); p7.step(t, v, mode="after", line_color="black", line_width=3)
plot_frame(p7, g7)
box(p7, g7, 365.4, 3102.2, 697.4, 3160.9, border=False, shadow=False)
box(p7, g7, 380.1, 3160.0, 679.5, 3216.5, border=False, shadow=False)
txt(p7, g7, 528.8, 3111.9, "Wokingham sunshine", 16, bold=True)
txt(p7, g7, 528.8, 3138.7, "22-Nov", 24)
txt(p7, g7, 540.4, 3175.1, "2019", 16, bold=True)
txt(p7, g7, 539.7, 3200.0, "Total 0.82 Hrs", 24)

# ======================= PANEL 8 : wind direction =======================
g8 = Geo((37.2, 3613.0, 955.1, 4128.9), (120.5, 3631.6, 939.1, 4081.4), ((146.2, 0), (911.5, 24)), (0, 360))
p8 = make_fig(g8)
p8.xaxis.ticker = FixedTicker(ticks=list(range(0, 25)))
sty(p8.below[0], 12, 11)
p8.yaxis.ticker = FixedTicker(ticks=list(range(0, 361, 30)))
sty(p8.left[0], 12, 12)
xtitle(p8, g8, p8.below[0], "Time (GMT)", 3)
ytitle(p8, g8, "Direction, degrees true", 13)
grid(p8.xgrid[0], list(range(0, 25)), width=1)
grid(p8.ygrid[0], [d for d in range(10, 360, 10) if d % 30], width=1)
extra_grid(p8, 1, list(range(30, 360, 30)), width=2.6)
t, v = cols(wind_dir)
p8.scatter(t, v, marker="square", angle=np.pi / 4, size=6.5, fill_color="black", line_color="black")
plot_frame(p8, g8)
box(p8, g8, 468.0, 3624.5, 751.3, 3667.3, border=False, shadow=False)
txt(p8, g8, 609.6, 3633.6, "Wokingham,  22 November 2019", 18)
txt(p8, g8, 610.3, 3653.4, "5 minute mean wind direction", 13)

# ======================= PANEL 9 : wind speed =======================
g9 = Geo((41.7, 4153.4, 958.3, 4648.2), (99.4, 4196.0, 953.2, 4577.0), ((123.0, 0), (875.0, 23)), (0, 50))
p9 = make_fig(g9)
hfmt = CustomJSTickFormatter(code="return (tick < 10 ? '0' : '') + tick + ':00';")
ax9b = two_row(p9, list(range(0, 23, 2)), list(range(1, 24, 2)), 12, 10, 0, formatter=hfmt)
p9.yaxis.ticker = FixedTicker(ticks=list(range(0, 51, 10)))
sty(p9.left[0], 11, 12)
xtitle(p9, g9, ax9b, "Time (GMT)", 3)
ytitle(p9, g9, "Speed (knots)", 14)
grid(p9.xgrid[0], list(range(0, 24)), dash=dotted)
grid(p9.ygrid[0], list(range(5, 50, 5)), dash=dotted)
t, v = cols(speed_gust); p9.line(t, v, line_color="#4a4a4a", line_width=1)
t, v = cols(speed_mean); p9.line(t, v, line_color="black", line_width=1.6)
t, v = cols(speed_x10)
p9.scatter(t, v, marker="square", angle=np.pi / 4, size=7, fill_color="#c8c8c8",
           line_color="black", line_width=0.8)
plot_frame(p9, g9)
txt(p9, g9, 271.2, 4174.3, "Wokingham,  22 November 2019", 18)
txt(p9, g9, 580.1, 4166.0, "Wind speed, 10 min mean / max gust", 13)
txt(p9, g9, 580.1, 4182.2, "Speeds below 4 kt shown at x10 scale", 13)
box(p9, g9, 732.7, 4159.3, 953.2, 4184.2)
legend_entry(p9, g9, 766, 776, 4171.7, 1, "Speed x 1", 783, 10.5)
txt(p9, g9, 856, 4171.7, "\u25c7", 12, font=YFONT)
txt(p9, g9, 869, 4171.7, "Speed / 10", 10.5, align="left")

# ======================= LAYOUT =======================
panels = [(p1, g1), (p2, g2), (p3, g3), (p4, g4), (p5, g5), (p6, g6), (p7, g7), (p8, g8), (p9, g9)]
children = []
prev_bottom = 8
for p, g in panels:
    x0, y0, x1, y1 = g.box
    children.append(Spacer(width=10, height=y0 - prev_bottom))
    children.append(row(Spacer(width=x0 - 8, height=10), p))
    prev_bottom = y1
children.append(Spacer(width=10, height=20))

layout = column(*children)
open("out.html", "w").write(file_html(layout, INLINE))
